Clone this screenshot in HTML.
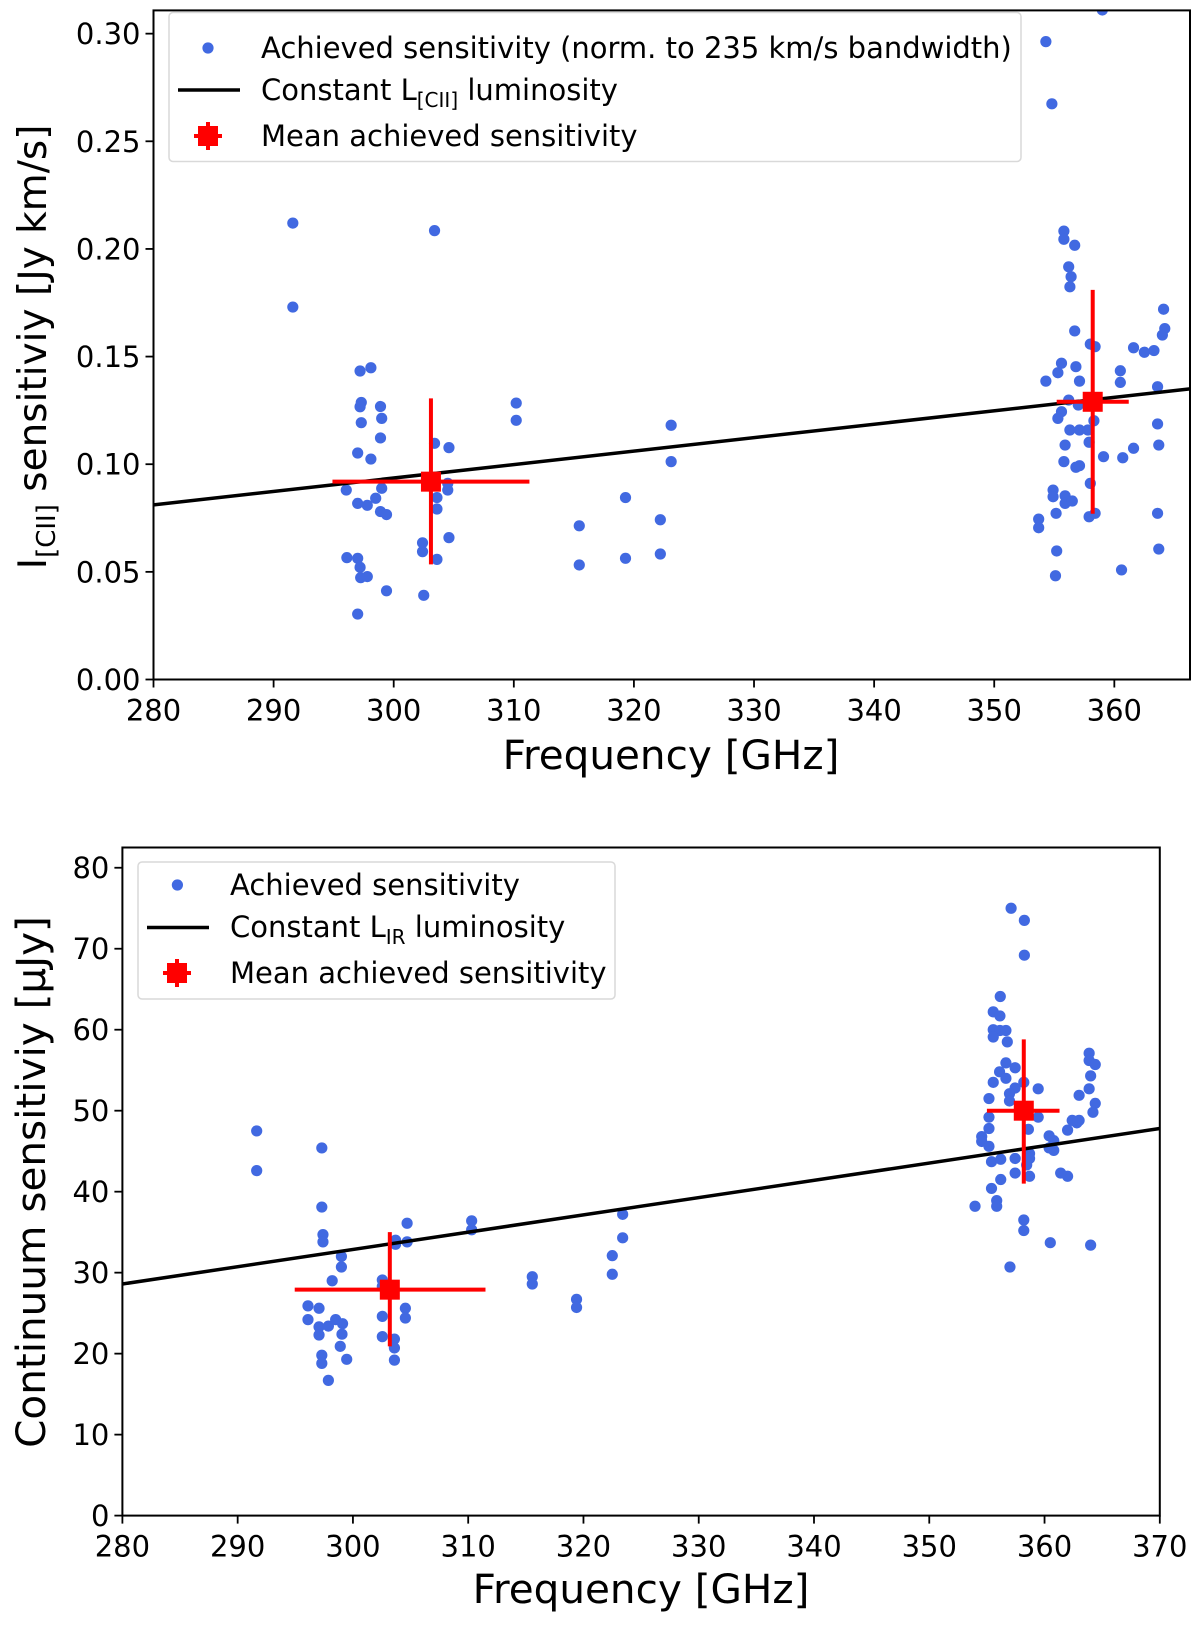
<!DOCTYPE html>
<html><head><meta charset="utf-8">
<style>
html,body{margin:0;padding:0;background:#fff;}
svg{display:block;font-family:"DejaVu Sans","Liberation Sans",sans-serif;}
</style></head>
<body>
<svg id="fig" width="1200" height="1628" viewBox="0 0 1200 1628" xmlns="http://www.w3.org/2000/svg">
<defs>
<clipPath id="clipTop"><rect x="153.5" y="10.4" width="1036.5" height="669.1"/></clipPath>
<clipPath id="clipBot"><rect x="122.4" y="847.5" width="1037.4" height="668.1"/></clipPath>
</defs>
<g id="top"></g>
<g id="bot"></g>
</svg>
<script>
// ---- Top panel data ----
const topFreq = [291.6,291.6,303.4,297.2,298.1,297.3,297.2,298.9,297.3,299.0,298.9,297.0,298.1,296.05,299.0,298.5,297.0,297.8,298.9,299.4,296.1,297.0,297.2,297.25,297.8,299.4,302.5,297.0,
303.4,304.6,303.0,304.5,304.5,303.6,303.6,304.6,302.4,302.4,303.6,310.2,310.2,319.3,315.45,315.45,319.3,322.2,322.2,323.1,323.1,
359.0,354.3,354.8,355.8,355.8,356.7,356.2,356.4,356.3,356.7,358.0,358.4,361.6,362.5,363.3,364.1,364.2,364.0,355.6,355.3,356.8,354.3,357.1,360.5,360.5,
356.2,357.0,355.6,355.3,358.3,356.3,357.1,357.8,357.9,355.9,355.8,356.8,357.1,359.1,360.7,361.6,358.0,354.9,354.9,355.9,355.9,356.5,355.15,357.9,358.4,353.7,353.7,355.2,355.1,360.6,363.6,363.6,363.7,363.6,363.7];
const topVal = [0.212,0.173,0.2085,0.1433,0.1448,0.1287,0.1267,0.1268,0.1193,0.1213,0.1122,0.1052,0.1024,0.088,0.0888,0.0842,0.0818,0.0809,0.078,0.0766,0.0566,0.0563,0.0521,0.0473,0.0478,0.0412,0.0391,0.0304,
0.1097,0.1077,0.092,0.0911,0.088,0.0845,0.0792,0.0659,0.0635,0.0594,0.0558,0.1284,0.1204,0.0845,0.0714,0.0532,0.0563,0.0742,0.0583,0.1181,0.1012,
0.311,0.2963,0.2674,0.2083,0.2045,0.2017,0.1917,0.1871,0.1824,0.1619,0.1558,0.1546,0.1541,0.152,0.1528,0.172,0.163,0.16,0.1469,0.1425,0.1453,0.1386,0.1386,0.1434,0.138,
0.1298,0.1275,0.1244,0.1213,0.1202,0.1159,0.1159,0.1159,0.1102,0.1089,0.1012,0.0986,0.0993,0.1035,0.103,0.1074,0.0911,0.088,0.0849,0.0853,0.0818,0.0829,0.0772,0.0756,0.0772,0.0745,0.0705,0.0597,0.0482,0.0509,0.136,0.1187,0.1089,0.0772,0.0606];
const topLineX = [280, 366.3];
const topLineY = [0.0811, 0.1350];
const topMeanX = [303.1, 358.2];
const topMeanY = [0.0919, 0.129];
const topXerrLo = [294.9, 355.2];
const topXerrHi = [311.3, 361.2];
const topYerrLo = [0.0535, 0.077];
const topYerrHi = [0.1306, 0.181];
const topXTicks = [280,290,300,310,320,330,340,350,360];
const topYTicks = [0,0.05,0.10,0.15,0.20,0.25,0.30];
const topYTickLabels = ["0.00","0.05","0.10","0.15","0.20","0.25","0.30"];

// ---- Bottom panel data ----
const botFreq = [291.65,291.65,297.3,297.3,297.4,297.4,299.0,299.0,298.2,296.1,297.06,296.1,297.06,297.06,297.87,298.5,299.1,299.05,298.9,297.3,297.3,299.46,297.87,
302.55,302.55,302.55,302.55,303.6,303.6,303.6,303.7,303.7,304.7,304.7,304.55,304.55,310.3,310.3,315.56,315.56,319.4,319.4,322.5,322.5,323.4,323.4,
357.1,358.25,358.25,356.16,355.55,356.13,355.55,356.13,356.65,355.55,356.77,356.65,356.1,357.45,356.65,355.55,358.2,359.45,357.45,356.96,355.18,356.96,355.18,359.45,355.18,358.6,354.55,354.55,355.18,362.0,362.8,360.8,360.8,
355.4,356.2,357.45,358.7,358.7,358.45,357.45,358.7,356.2,362.0,355.4,355.85,355.85,353.97,358.2,358.2,363.87,363.87,364.4,364.0,363.87,364.4,363.0,364.2,363.0,362.4,360.4,360.4,361.4,360.5,364.0,357.0];
const botVal = [47.5,42.6,45.4,38.1,34.7,33.8,32.0,30.7,29.0,25.9,25.6,24.2,23.3,22.3,23.4,24.2,23.7,22.4,20.9,19.8,18.8,19.3,16.7,
29.1,28.3,24.6,22.1,21.8,20.7,19.2,34.0,33.5,36.1,33.8,25.6,24.4,36.4,35.3,29.5,28.6,26.7,25.7,32.1,29.8,37.2,34.3,
75.0,73.5,69.2,64.1,62.2,61.7,60.0,59.9,59.9,59.1,58.5,55.9,54.8,55.3,54.0,53.5,53.5,52.7,52.8,52.1,51.5,51.2,49.2,49.2,47.8,47.7,46.8,46.2,45.6,47.6,48.5,46.3,45.1,
43.7,44.0,44.1,44.7,44.1,43.3,42.3,41.9,41.5,41.9,40.4,38.9,38.2,38.2,36.5,35.2,57.1,56.2,55.7,54.3,52.7,50.9,51.9,49.8,48.8,48.8,46.9,45.4,42.3,33.7,33.4,30.7];
const botLineX = [280, 370];
const botLineY = [28.6, 47.8];
const botMeanX = [303.2, 358.2];
const botMeanY = [27.9, 50.0];
const botXerrLo = [294.95, 355.0];
const botXerrHi = [311.5, 361.3];
const botYerrLo = [20.9, 41.0];
const botYerrHi = [35.0, 58.8];
const botXTicks = [280,290,300,310,320,330,340,350,360,370];
const botYTicks = [0,10,20,30,40,50,60,70,80];
const botYTickLabels = ["0","10","20","30","40","50","60","70","80"];

const NS = "http://www.w3.org/2000/svg";
function mk(parent, tag, attrs, text){
  const e = document.createElementNS(NS, tag);
  for (const k in attrs) e.setAttribute(k, attrs[k]);
  if (text !== undefined) e.textContent = text;
  parent.appendChild(e);
  return e;
}

function panel(g, P, d){
  const sx = v => P.L + (v - P.x0) / (P.x1 - P.x0) * (P.R - P.L);
  const sy = v => P.B - (v - P.y0) / (P.y1 - P.y0) * (P.B - P.T);
  const plot = mk(g, 'g', {'clip-path': 'url(#' + P.clip + ')'});
  
  
  for (let i = 0; i < d.fx.length; i++){
    const c = mk(plot, 'circle', {cx: sx(d.fx[i]), cy: sy(d.fv[i]), r: 5.6, fill: '#4169e1'});
    
    
  }
  const ln = mk(plot, 'line', {x1: sx(d.lx[0]), y1: sy(d.ly[0]), x2: sx(d.lx[1]), y2: sy(d.ly[1]), stroke: '#000', 'stroke-width': 3.5});
  
  
  for (let i = 0; i < d.mx.length; i++){
    const mg = mk(plot, 'g', {});
    
    
    mk(mg, 'line', {x1: sx(d.xlo[i]), x2: sx(d.xhi[i]), y1: sy(d.my[i]), y2: sy(d.my[i]), stroke: '#ff0000', 'stroke-width': 4});
    mk(mg, 'line', {x1: sx(d.mx[i]), x2: sx(d.mx[i]), y1: sy(d.ylo[i]), y2: sy(d.yhi[i]), stroke: '#ff0000', 'stroke-width': 4});
    mk(mg, 'rect', {x: sx(d.mx[i]) - 10, y: sy(d.my[i]) - 10, width: 20, height: 20, fill: '#ff0000'});
  }
  const fr = mk(g, 'rect', {x: P.L, y: P.T, width: P.R - P.L, height: P.B - P.T, fill: 'none', stroke: '#000', 'stroke-width': 2});
  
  
  for (let i = 0; i < d.xt.length; i++){
    const x = sx(d.xt[i]);
    mk(g, 'line', {x1: x, x2: x, y1: P.B, y2: P.B + 8, stroke: '#000', 'stroke-width': 1.8});
    const t = mk(g, 'text', {x: x, y: P.B + 41, 'text-anchor': 'middle', 'font-size': 29, fill: '#000'}, String(d.xt[i]));
    
    
  }
  for (let i = 0; i < d.yt.length; i++){
    const y = sy(d.yt[i]);
    mk(g, 'line', {x1: P.L - 8, x2: P.L, y1: y, y2: y, stroke: '#000', 'stroke-width': 1.8});
    const t = mk(g, 'text', {x: P.L - 13, y: y + 10.5, 'text-anchor': 'end', 'font-size': 29, fill: '#000'}, d.ytl[i]);
    
    
  }
}

const gt = document.getElementById('top');
panel(gt, {L:153.5, R:1190, T:10.4, B:679.5, x0:280, x1:366.3, y0:0, y1:0.3108, clip:'clipTop'},
  {fx: topFreq, fv: topVal, lx: topLineX, ly: topLineY, mx: topMeanX, my: topMeanY, xlo: topXerrLo, xhi: topXerrHi, ylo: topYerrLo, yhi: topYerrHi, xt: topXTicks, yt: topYTicks, ytl: topYTickLabels});
const gb = document.getElementById('bot');
panel(gb, {L:122.4, R:1159.8, T:847.5, B:1515.6, x0:280, x1:370, y0:0, y1:82.5, clip:'clipBot'},
  {fx: botFreq, fv: botVal, lx: botLineX, ly: botLineY, mx: botMeanX, my: botMeanY, xlo: botXerrLo, xhi: botXerrHi, ylo: botYerrLo, yhi: botYerrHi, xt: botXTicks, yt: botYTicks, ytl: botYTickLabels});
</script>

<svg style="position:absolute;left:0;top:0" width="1200" height="1628" xmlns="http://www.w3.org/2000/svg" font-family="DejaVu Sans, Liberation Sans, sans-serif">
  <text x="671" y="769" text-anchor="middle" font-size="40.5">Frequency [GHz]</text>
  <text transform="translate(46,347) rotate(-90)" text-anchor="middle" font-size="39">I<tspan font-size="26" dy="9">[CII]</tspan><tspan dy="-9"> sensitiviy [Jy km/s]</tspan></text>

  <g>
    <rect x="169" y="12.5" width="852" height="149" rx="4" fill="#fff" fill-opacity="0.8" stroke="#d9d9d9" stroke-width="1.5"/>
    <circle cx="208" cy="48" r="5.6" fill="#4169e1"/>
    <text x="261" y="58" font-size="29">Achieved sensitivity (norm. to 235 km/s bandwidth)</text>
    <line x1="178" x2="240" y1="90" y2="90" stroke="#000" stroke-width="3.5"/>
    <text x="261" y="100" font-size="29">Constant L<tspan font-size="20" dy="7">[CII]</tspan><tspan dy="-7"> luminosity</tspan></text>
    <g>
      <line x1="194" x2="222" y1="136" y2="136" stroke="#f00" stroke-width="4"/>
      <line x1="208" x2="208" y1="122" y2="150" stroke="#f00" stroke-width="4"/>
      <rect x="198" y="126" width="20" height="20" fill="#f00"/>
    </g>
    <text x="261" y="146" font-size="29">Mean achieved sensitivity</text>
  </g>

  <text x="641" y="1603" text-anchor="middle" font-size="40.5">Frequency [GHz]</text>
  <text transform="translate(45,1182) rotate(-90)" text-anchor="middle" font-size="40.5">Continuum sensitiviy [μJy]</text>

  <g>
    <rect x="138" y="862" width="477" height="137" rx="4" fill="#fff" fill-opacity="0.8" stroke="#d9d9d9" stroke-width="1.5"/>
    <circle cx="177.4" cy="885" r="5.6" fill="#4169e1"/>
    <text x="230" y="895" font-size="29">Achieved sensitivity</text>
    <line x1="147" x2="209" y1="927.5" y2="927.5" stroke="#000" stroke-width="3.5"/>
    <text x="230" y="937" font-size="29">Constant L<tspan font-size="20" dy="7">IR</tspan><tspan dy="-7"> luminosity</tspan></text>
    <g>
      <line x1="163" x2="191" y1="973" y2="973" stroke="#f00" stroke-width="4"/>
      <line x1="177" x2="177" y1="959" y2="987" stroke="#f00" stroke-width="4"/>
      <rect x="167" y="963" width="20" height="20" fill="#f00"/>
    </g>
    <text x="230" y="983" font-size="29">Mean achieved sensitivity</text>
  </g>
</svg>
</body></html>
